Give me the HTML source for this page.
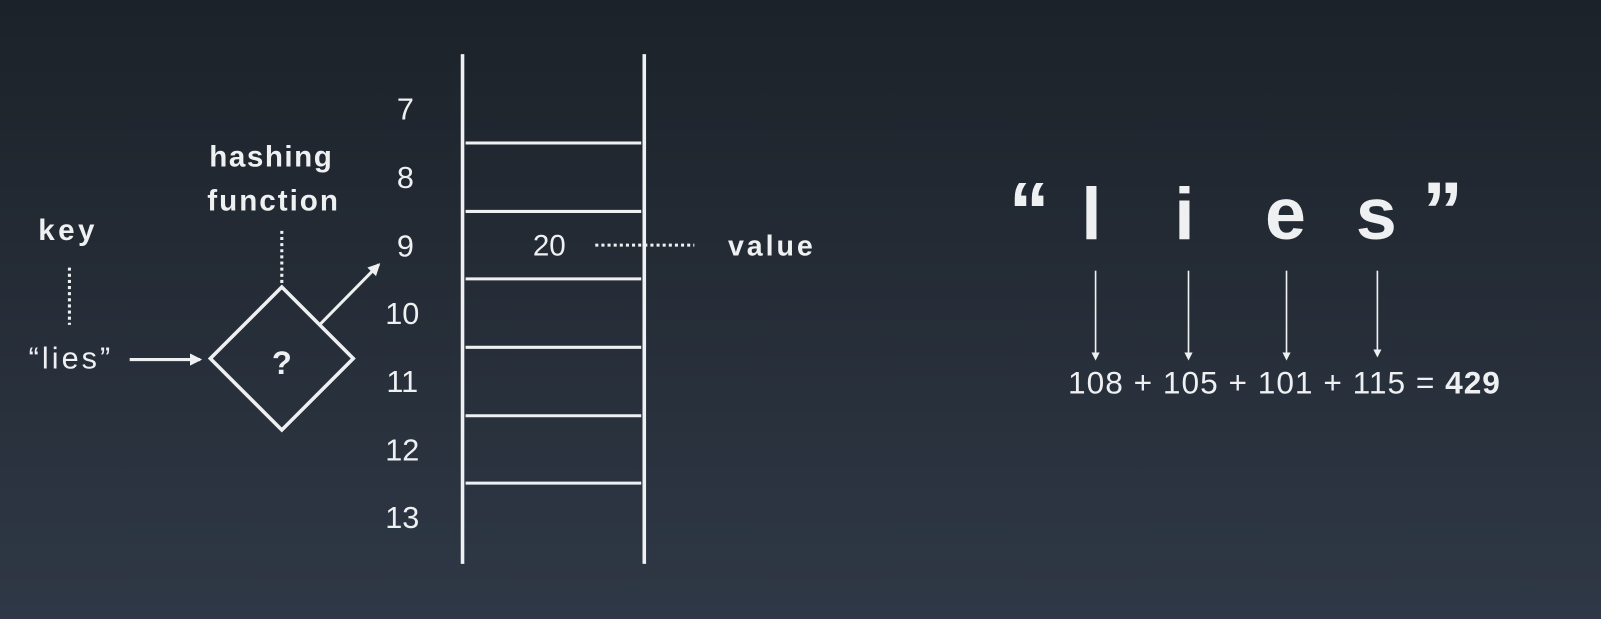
<!DOCTYPE html>
<html><head><meta charset="utf-8"><style>
html,body{margin:0;padding:0;width:1601px;height:619px;overflow:hidden;background:#262d37}
svg{display:block}
text{font-family:"Liberation Sans",sans-serif;fill:#eef0f2}
</style></head><body>
<svg width="1601" height="619" viewBox="0 0 1568 606" preserveAspectRatio="none">
<defs>
<linearGradient id="bg" x1="0" y1="0" x2="0" y2="1"><stop offset="0" stop-color="#1c2229"/><stop offset="1" stop-color="#2f3846"/></linearGradient>
<marker id="ah" markerWidth="8" markerHeight="8" refX="6" refY="4" orient="auto" markerUnits="userSpaceOnUse"><path d="M0,0 L8,4 L0,8 Z" fill="#eef0f2"/></marker>
<marker id="ah2" markerWidth="12" markerHeight="12" refX="10" refY="6" orient="auto" markerUnits="userSpaceOnUse"><path d="M0,0 L12,6 L0,12 Z" fill="#eef0f2"/></marker>
</defs>
<rect width="1568" height="606" fill="url(#bg)"/>
<g stroke="#eef0f2" fill="none">
<line x1="453" y1="53" x2="453" y2="552" stroke-width="3.5"/>
<line x1="631" y1="53" x2="631" y2="552" stroke-width="3.5"/>
<g stroke-width="3">
<line x1="456" y1="140" x2="628" y2="140"/><line x1="456" y1="207" x2="628" y2="207"/>
<line x1="456" y1="273" x2="628" y2="273"/><line x1="456" y1="340" x2="628" y2="340"/>
<line x1="456" y1="407" x2="628" y2="407"/><line x1="456" y1="473" x2="628" y2="473"/>
</g>
<line x1="583" y1="240" x2="680" y2="240" stroke-width="3" stroke-dasharray="3,3"/>
<line x1="68" y1="262" x2="68" y2="318" stroke-width="3" stroke-dasharray="3,3"/>
<line x1="276" y1="226" x2="276" y2="278" stroke-width="3" stroke-dasharray="3,3"/>
<line x1="127" y1="352" x2="196" y2="352" stroke-width="3" marker-end="url(#ah2)"/>
<polygon points="276,281 346,351 276,421 206,351" stroke-width="3.5"/>
<line x1="313" y1="318" x2="371" y2="259" stroke-width="3" marker-end="url(#ah2)"/>
<g stroke-width="1.6">
<line x1="1073" y1="265" x2="1073" y2="351" marker-end="url(#ah)"/>
<line x1="1164" y1="265" x2="1164" y2="351" marker-end="url(#ah)"/>
<line x1="1260" y1="265" x2="1260" y2="351" marker-end="url(#ah)"/>
<line x1="1349" y1="265" x2="1349" y2="348" marker-end="url(#ah)"/>
</g>
</g>
<g font-size="30" text-anchor="middle">
<text x="397" y="117">7</text><text x="397" y="184">8</text><text x="397" y="251">9</text>
<text x="394" y="317">10</text><text x="394" y="384">11</text><text x="394" y="451">12</text><text x="394" y="517">13</text>
</g>
<text x="538" y="250" font-size="29" text-anchor="middle">20</text>
<text x="713" y="250" font-size="28" font-weight="bold" textLength="83">value</text>
<text x="265" y="163" font-size="29" font-weight="bold" text-anchor="middle" textLength="120">hashing</text>
<text x="267" y="206" font-size="29" font-weight="bold" text-anchor="middle" textLength="128">function</text>
<text x="65" y="235" font-size="29" font-weight="bold" text-anchor="middle" textLength="55">key</text>
<text x="68" y="361" font-size="30" text-anchor="middle" textLength="80">“lies”</text>
<text x="276" y="366" font-size="32" font-weight="bold" text-anchor="middle">?</text>
<g font-size="72" font-weight="bold" text-anchor="middle">
<text x="1008" y="234" font-size="80">“</text><text x="1069" y="234">l</text><text x="1160" y="234">i</text>
<text x="1259" y="234">e</text><text x="1348" y="234">s</text><text x="1413" y="234" font-size="80">”</text>
</g>
<text x="1046" y="385" font-size="31" textLength="423">108 + 105 + 101 + 115 = <tspan font-weight="bold">429</tspan></text>
</svg>
</body></html>
